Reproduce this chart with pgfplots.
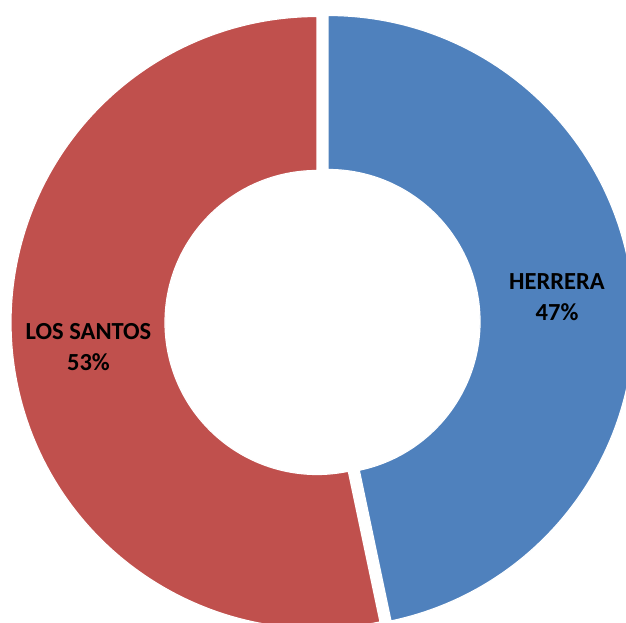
\documentclass[border=0pt]{standalone}
\usepackage{pgfplots}
\usepackage{pgfplotstable}
\pgfplotsset{compat=1.18}
\usepackage{fontspec}
\setmainfont{Carlito}
\definecolor{cHer}{HTML}{4F81BD}
\definecolor{cLos}{HTML}{C0504D}
\pgfplotstableread{
name share
HERRERA 46.7
LOSSANTOS 53.3
}\shares
\begin{document}
\begin{tikzpicture}
\pgfplotstablegetelem{0}{share}\of\shares \let\vH\pgfplotsretval
\pgfplotstablegetelem{1}{share}\of\shares \let\vL\pgfplotsretval
\pgfmathsetmacro{\tot}{\vH+\vL}
\pgfmathsetmacro{\fH}{\vH/\tot}
\pgfmathsetmacro{\fL}{\vL/\tot}
\pgfmathsetmacro{\aH}{90-360*\fH}
\pgfmathsetmacro{\aLend}{\aH-360*\fL}
\def\R{306}\def\r{152}
% red center
\def\cxL{317}\def\cyL{300.5}
% blue center (exploded)
\def\cxH{328}\def\cyH{301.5}
\pgfmathsetmacro{\pHx}{\cxH}\pgfmathsetmacro{\pHy}{\cyH+\R}
\pgfmathsetmacro{\qHx}{\cxH+\r*cos(\aH)}\pgfmathsetmacro{\qHy}{\cyH+\r*sin(\aH)}
\pgfmathsetmacro{\pLx}{\cxL+\R*cos(\aH)}\pgfmathsetmacro{\pLy}{\cyL+\R*sin(\aH)}
\pgfmathsetmacro{\qLx}{\cxL+\r*cos(\aLend)}\pgfmathsetmacro{\qLy}{\cyL+\r*sin(\aLend)}
\pgfmathtruncatemacro{\pctH}{round(100*\fH)}
\pgfmathtruncatemacro{\pctL}{round(100*\fL)}
\begin{axis}[
  scale only axis, width=626bp, height=623bp,
  xmin=0, xmax=626, ymin=0, ymax=623,
  hide axis, clip=true,
]
\fill[cHer, draw=white, line width=1.2bp] (axis cs:\pHx,\pHy) arc[start angle=90, end angle=\aH, radius=\R bp]
   -- (axis cs:\qHx,\qHy) arc[start angle=\aH, end angle=90, radius=\r bp] -- cycle;
\fill[cLos, draw=white, line width=1.2bp] (axis cs:\pLx,\pLy) arc[start angle=\aH, end angle=\aLend, radius=\R bp]
   -- (axis cs:\qLx,\qLy) arc[start angle=\aLend, end angle=\aH, radius=\r bp] -- cycle;
\node[align=center, font=\fontsize{24.6}{31}\selectfont\bfseries] at (axis cs:557,325.5)
  {HERRERA\\\pctH\%};
\node[align=center, font=\fontsize{24.6}{31}\selectfont\bfseries] at (axis cs:88.5,276)
  {LOS SANTOS\\\pctL\%};
\end{axis}
\pgfresetboundingbox
\useasboundingbox (current axis.south west) rectangle (current axis.north east);
\end{tikzpicture}
\end{document}
